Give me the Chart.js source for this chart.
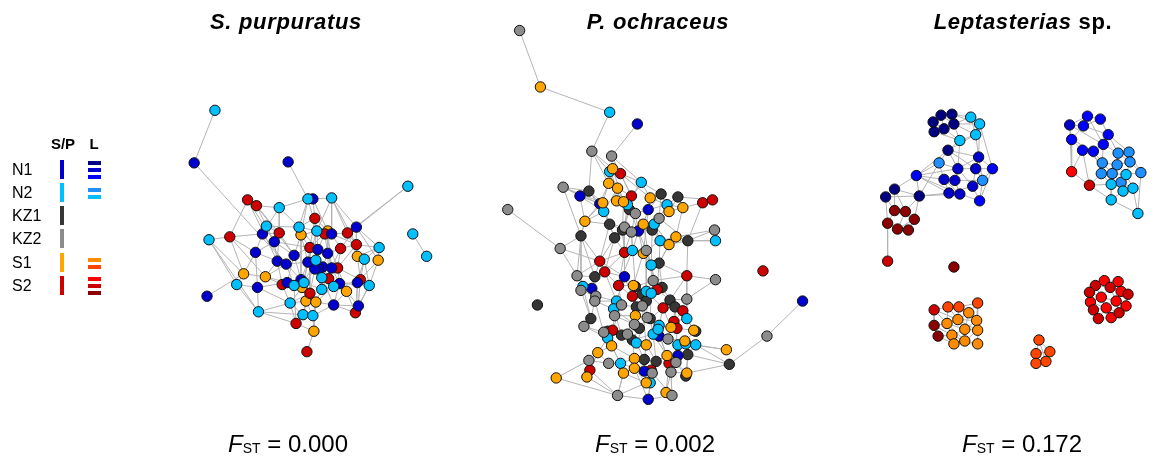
<!DOCTYPE html>
<html>
<head>
<meta charset="utf-8">
<script src="https://cdn.jsdelivr.net/npm/chart.js@4"></script>
<style>
  body { margin: 0; background: #fff; font-family: Arial, "Liberation Sans", sans-serif; }
  #wrap { position: relative; width: 1154px; height: 462px; }
  #net { position: absolute; left: 0; top: 0; }
  .title { position: absolute; top: 10px; transform: translateX(-50%); font-size: 22px; letter-spacing: 0.7px; font-weight: bold; white-space: nowrap; line-height: 24px; }
  .fst { position: absolute; top: 431px; transform: translateX(-50%); font-size: 24px; line-height: 26px; white-space: nowrap; }
  .fst sub { font-size: 14px; vertical-align: -1px; line-height: 0; }
  .lab { position: absolute; font-size: 16px; transform: translateY(-50%); }
  .head { position: absolute; font-size: 15px; font-weight: bold; transform: translate(-50%, -50%); }
  .sw { position: absolute; }
</style>
</head>
<body>
<div id="wrap">
  <canvas id="net" width="1154" height="462"></canvas>
  <div class="title" style="left:286px"><i>S. purpuratus</i></div>
  <div class="title" style="left:658px"><i>P. ochraceus</i></div>
  <div class="title" style="left:1023px"><i>Leptasterias</i> sp.</div>
  <div class="fst" style="left:288px"><i>F</i><sub>ST</sub> = 0.000</div>
  <div class="fst" style="left:655px"><i>F</i><sub>ST</sub> = 0.002</div>
  <div class="fst" style="left:1022px"><i>F</i><sub>ST</sub> = 0.172</div>
  <div id="legend"></div>
</div>
<script>
// group colours
const groupColors = {
  N1: '#0000CD', N2: '#00BFFF', KZ1: '#363636', KZ2: '#8C8C8C', S1: '#FFA500', S2: '#CD0000',
  Ln: '#000080', Lm: '#0000CD', Lb: '#0000FF', Ld: '#1E90FF', Ls: '#00BFFF',
  Ldo: '#FF8C00', Lo: '#FF4500', Lr: '#FF0000', Lr3: '#CD0000', Ldr: '#8B0000'
};

// legend rows: label, S/P group, L groups
const legendLabels = ['N1', 'N2', 'KZ1', 'KZ2', 'S1', 'S2'];
const legendSP = ['N1', 'N2', 'KZ1', 'KZ2', 'S1', 'S2'];
const legendL = [['Ln', 'Lm', 'Lb'], ['Ld', 'Ls'], [], [], ['Ldo', 'Lo'], ['Lr', 'Lr3', 'Ldr']];

// S. purpuratus network layout [x, y, group]
const spNodes = [
  [211,107,'N2'],[190,161,'N1'],[285,160,'N1'],[406,185,'N2'],[244,199,'S2'],[253,205,'S2'],[276,207,'N2'],[305,198,'N2'],
  [310,198,'N1'],[329,197,'N2'],[312,218,'S2'],[263,226,'N2'],[296,227,'N2'],[325,231,'S1'],[322,234,'S2'],[329,234,'N1'],
  [345,233,'S2'],[354,227,'N1'],[314,231,'N2'],[298,235,'S1'],[276,233,'S2'],[259,234,'N1'],[226,237,'S2'],[205,240,'N2'],
  [271,242,'N1'],[411,234,'N2'],[425,257,'N2'],[354,245,'S2'],[377,248,'N2'],[307,248,'S2'],[315,250,'N1'],[325,254,'N1'],
  [338,249,'S2'],[252,253,'N1'],[291,256,'N1'],[355,257,'S1'],[362,260,'N2'],[376,261,'S1'],[274,262,'N1'],[283,265,'N1'],
  [305,263,'N1'],[313,261,'N2'],[320,268,'N1'],[316,270,'N1'],[312,270,'N1'],[329,269,'N1'],[335,269,'S2'],[240,275,'S1'],
  [262,278,'S1'],[319,279,'N2'],[326,280,'S2'],[284,284,'N1'],[298,281,'N1'],[279,286,'S2'],[291,287,'N2'],[299,289,'S1'],
  [301,284,'N2'],[337,285,'N1'],[355,284,'N1'],[358,281,'S2'],[367,287,'N2'],[331,288,'N2'],[319,291,'N2'],[344,293,'S1'],
  [307,295,'S2'],[233,286,'N2'],[254,289,'N1'],[203,298,'N1'],[287,305,'N2'],[303,303,'S1'],[313,304,'S1'],[331,307,'N1'],
  [356,308,'N1'],[353,315,'S2'],[255,314,'N2'],[300,317,'N2'],[310,318,'N2'],[293,326,'S2'],[311,334,'S1'],[304,355,'S2']
];
const spEdges = [
  [0,1],[1,39],[2,7],[3,17],[3,16],[25,26],[67,47],[79,78],
  [4,5],[4,24],[5,6],[5,20],[6,7],[6,12],[7,8],[8,9],[8,10],[9,17],[9,15],[8,13],[7,19],[4,22],[4,38],[5,34],[6,21],
  [11,21],[11,12],[11,24],[12,18],[12,19],[10,18],[10,13],[13,14],[15,16],[16,17],[17,28],[17,37],[9,27],
  [23,22],[23,65],[23,74],[22,21],[22,33],[22,47],[21,33],[21,20],[24,38],[24,33],[33,66],[33,38],[47,48],[47,65],
  [65,66],[66,74],[74,77],[74,68],[48,51],[48,53],[48,39],
  [28,37],[28,36],[27,35],[27,32],[35,36],[36,60],[37,60],[37,58],[59,60],[58,72],[59,72],[72,73],[60,73],
  [29,30],[30,31],[31,32],[29,34],[34,39],[38,39],[39,40],[40,41],[41,42],[42,43],[43,44],[44,40],[42,45],[45,46],
  [46,57],[57,58],[57,61],[61,62],[62,49],[49,50],[50,45],[52,56],[51,52],[53,54],[54,55],[55,56],[56,64],[64,69],
  [69,70],[70,71],[71,72],[61,63],[63,73],[68,69],[68,75],[75,76],[76,78],[77,78],[77,75],[53,68],[51,66],[19,29],
  [19,34],[18,30],[14,31],[15,32],[20,24],[20,34],[12,40],[10,41],[13,45],[15,27],[16,35],[14,46],[31,50],[30,49],
  [29,64],[40,52],[41,56],[43,62],[44,55],[42,61],[45,57],[46,59],[50,63],[62,70],[49,71],[64,75],[55,68],[54,77],
  [58,73],[60,72],[63,72],[36,59],[32,46],[31,42],[30,43],[24,29],[21,39],[18,40],[12,30],[9,16],[19,52],[13,31],
  [34,51],[38,53],[39,54],[57,71],[61,70],[76,71],[78,70],[5,11],[7,18],[10,29],[17,27],[28,35],
  [11,20],[20,38],[24,34],[29,40],[30,41],[31,45],[32,45],[27,46],[35,59],[36,58],[57,60],[58,59],[49,62],[50,61],
  [51,53],[52,54],[53,55],[54,56],[56,62],[64,68],[64,70],[69,75],[70,76],[71,73],[63,71],[66,68],[65,74],[33,47],
  [38,48],[39,52],[40,56],[44,64],[43,49],[42,50],[45,50],[46,63],[6,20],[7,12],[9,18],[13,29],[14,30],[18,19],
  [10,12],[28,27],[22,48],[23,47],[74,75],[68,77],[55,64],[69,76],[17,32],[16,27],[41,49],[44,62],[40,55],[34,52]
];

// P. ochraceus network layout [x, y, group]
const poNodes = [
  [519,25,'KZ2'],[540,83,'S1'],[610,109,'N2'],[638,121,'N1'],[592,149,'KZ2'],[612,154,'KZ2'],[613,167,'S1'],[610,170,'N2'],
  [621,172,'S2'],[642,181,'N2'],[609,182,'S1'],[618,187,'S1'],[563,186,'KZ2'],[589,190,'KZ1'],[580,195,'N1'],[632,195,'S2'],
  [651,197,'S1'],[662,193,'KZ1'],[679,196,'KZ1'],[704,202,'S2'],[714,199,'S2'],[603,202,'S1'],[600,203,'N1'],[617,200,'S1'],
  [624,201,'S1'],[628,204,'N2'],[668,204,'N2'],[684,207,'S1'],[670,211,'S1'],[604,211,'N2'],[630,209,'KZ1'],[636,213,'KZ2'],
  [649,209,'N1'],[507,209,'KZ2'],[660,218,'KZ2'],[585,221,'S1'],[610,224,'KZ1'],[644,224,'S1'],[655,224,'N2'],[625,227,'KZ2'],
  [623,230,'KZ1'],[639,231,'N1'],[632,232,'KZ2'],[653,230,'KZ1'],[716,230,'KZ2'],[717,241,'N2'],[689,241,'KZ1'],[677,237,'S1'],
  [661,241,'N2'],[670,245,'S1'],[581,236,'KZ1'],[615,238,'KZ1'],[560,249,'KZ2'],[625,253,'S2'],[633,251,'N2'],[644,254,'S1'],
  [647,251,'KZ2'],[600,262,'S2'],[652,266,'N2'],[660,264,'KZ1'],[765,272,'S2'],[688,277,'S2'],[717,281,'KZ2'],[577,277,'KZ2'],
  [595,278,'KZ1'],[605,273,'S2'],[625,278,'N1'],[583,288,'N2'],[592,290,'N1'],[581,292,'KZ2'],[619,287,'S2'],[634,287,'S1'],
  [636,288,'KZ1'],[654,282,'KZ2'],[658,291,'S2'],[663,289,'KZ1'],[647,293,'N2'],[652,295,'N2'],[643,296,'KZ1'],[633,298,'S2'],
  [647,303,'KZ1'],[596,298,'KZ2'],[595,303,'KZ2'],[537,307,'KZ1'],[617,303,'N2'],[622,307,'KZ2'],[614,311,'N2'],[671,302,'KZ1'],
  [688,301,'KZ2'],[805,303,'N1'],[664,310,'S2'],[676,309,'KZ1'],[684,313,'S2'],[643,308,'KZ2'],[637,309,'KZ1'],[615,318,'KZ2'],
  [636,318,'S1'],[648,320,'KZ2'],[651,321,'KZ1'],[688,321,'N2'],[591,321,'KZ1'],[584,329,'KZ2'],[635,327,'KZ2'],[675,324,'S2'],
  [672,330,'S1'],[678,331,'S2'],[660,328,'N2'],[640,331,'KZ1'],[695,333,'S1'],[697,334,'KZ1'],[613,333,'S2'],[604,335,'KZ2'],
  [608,334,'KZ1'],[608,341,'N2'],[654,337,'N2'],[660,339,'N1'],[659,332,'N2'],[622,338,'KZ1'],[628,337,'KZ2'],[633,343,'KZ1'],
  [637,346,'N2'],[612,349,'S1'],[647,348,'S1'],[669,342,'KZ2'],[686,344,'S1'],[679,348,'N2'],[687,347,'N2'],[697,348,'N2'],
  [728,353,'S1'],[769,339,'KZ2'],[598,356,'S1'],[689,358,'KZ1'],[679,359,'N1'],[635,362,'S1'],[645,363,'KZ1'],[657,365,'KZ1'],
  [668,359,'S1'],[589,364,'KZ2'],[609,367,'KZ2'],[621,367,'N2'],[670,367,'S2'],[677,366,'KZ2'],[731,368,'KZ1'],[590,374,'S2'],
  [635,372,'S1'],[624,377,'S1'],[652,374,'S2'],[645,375,'N1'],[653,377,'KZ2'],[672,376,'KZ2'],[688,377,'S1'],[687,380,'KZ1'],
  [556,382,'S1'],[587,381,'S1'],[647,387,'S1'],[651,387,'N2'],[667,397,'S1'],[673,400,'KZ2'],[618,400,'KZ2'],[649,404,'N1']
];
const poEdges = [
  [0,1],[1,2],[2,4],[3,5],[33,52],[52,57],[12,13],[12,14],[12,50],[4,13],[4,10],[4,7],[4,6],[5,6],[5,8],[5,9],[5,15],
  [89,129],[129,142],[142,127],[142,150],[142,131],[128,127],[128,126],[62,61],[62,88],[44,47],[44,46],[45,46],[45,48],
  [19,20],[19,27],[20,18],[18,26],[17,16],[17,28],[152,158],[153,158],[158,159],[158,154],[158,143],[158,145],[159,157],
  [157,156],[156,149],[159,155],[46,61],[61,59],[61,73],[61,87],[61,88],[50,35],[50,52],[50,63],[50,69],
  [6,7],[7,8],[8,9],[9,16],[9,15],[10,11],[11,15],[11,23],[10,21],[13,14],[13,22],[14,22],[14,29],[21,22],[22,29],
  [23,24],[24,25],[25,30],[30,31],[31,32],[32,16],[16,26],[26,27],[26,28],[28,34],[34,38],[38,37],[37,41],[41,43],
  [43,34],[39,40],[40,42],[42,41],[36,39],[36,51],[51,40],[35,36],[35,29],[29,36],[21,35],[30,39],[31,42],[15,30],
  [15,24],[9,17],[17,32],[18,28],[27,47],[47,48],[48,49],[49,43],[46,47],[46,49],[48,38],[53,54],[54,55],[55,56],
  [56,48],[53,40],[51,53],[57,65],[57,63],[57,50],[52,63],[58,59],[58,56],[54,42],[55,41],[59,49],[26,32],[23,30],
  [25,31],[10,25],[7,23],[6,24],[8,16],[11,29],[13,21],[12,22],[37,31],[38,43],[34,46],[17,26],[19,46],[18,27],
  [63,64],[64,65],[65,66],[66,70],[70,71],[71,72],[72,73],[73,74],[74,75],[75,76],[76,77],[77,78],[78,79],[79,72],
  [80,77],[80,93],[93,94],[94,79],[67,68],[68,69],[67,63],[69,81],[81,82],[82,84],[84,85],[85,86],[86,95],[95,96],
  [96,97],[97,98],[98,90],[90,91],[91,92],[92,99],[99,103],[103,104],[104,105],[105,108],[108,109],[109,124],
  [124,125],[125,126],[126,127],[100,101],[101,111],[111,112],[112,110],[110,113],[113,121],[121,130],[130,137],
  [137,143],[137,138],[138,139],[139,145],[145,144],[144,133],[133,134],[134,135],[135,136],[136,140],[140,141],
  [141,131],[131,132],[132,149],[149,150],[150,151],[146,147],[147,148],[148,146],[154,155],[155,159],[146,154],
  [102,107],[107,117],[117,118],[118,119],[119,120],[120,122],[122,114],[114,115],[115,116],[116,106],[106,104],
  [123,115],[123,124],[87,91],[87,88],[88,99],[74,87],[76,90],[78,93],[80,97],[84,66],[86,117],[95,102],[96,107],
  [97,106],[98,114],[100,82],[100,69],[101,113],[111,121],[112,117],[110,118],[113,130],[121,139],[119,133],
  [120,134],[122,135],[114,136],[116,140],[105,141],[103,123],[92,108],[64,81],[65,84],[70,85],[71,94],[66,79],
  [53,65],[54,70],[56,73],[58,74],[59,75],[57,64],[51,57],[40,53],[41,56],[43,58],[49,59],[147,134],[148,135],
  [153,143],[143,130],[152,137],[139,144],[145,158],[144,159],[147,155],[154,148],[156,140],[157,149],[151,131],
  [150,141],[36,57],[39,66],[42,72],[37,73],[32,55],[25,41],[24,40],[21,36],[67,100],[82,111],[85,110],[94,118],
  [93,122],[98,116],[91,103],[90,106],[97,120],[77,98],[75,91],
  [63,67],[64,68],[65,70],[66,71],[70,79],[72,78],[73,76],[74,77],[75,80],[81,84],[82,86],[84,95],[85,94],[86,102],
  [93,97],[94,96],[95,110],[96,102],[97,107],[98,106],[90,104],[91,105],[92,103],[99,108],[87,90],[102,117],
  [107,119],[117,120],[118,122],[119,114],[110,117],[111,113],[112,118],[113,139],[121,133],[122,134],[114,135],
  [115,136],[116,123],[123,125],[124,127],[125,132],[126,131],[127,131],[130,138],[133,144],[134,147],[135,146],
  [136,149],[140,149],[141,151],[139,133],[144,154],[145,154],[146,155],[148,157],[149,157],[150,131],[143,153],
  [137,153],[6,10],[7,11],[8,15],[9,25],[10,22],[11,24],[13,29],[14,35],[21,29],[22,35],[23,25],[24,30],[25,39],
  [30,40],[31,41],[32,37],[16,32],[17,34],[26,34],[27,28],[28,43],[29,51],[36,40],[37,43],[38,49],[39,51],[41,54],
  [42,53],[43,48],[47,49],[48,59],[53,57],[54,56],[55,58],[57,66],[58,73],[59,74],[56,76],[55,71],[53,70],[51,65],
  [50,64],[35,50],[12,21]
];

// Leptasterias sp. network layout [x, y, group]
const leNodes = [
  [937,119,'Ln'],[945,112,'Ln'],[956,111,'Ln'],[958,121,'Ln'],[948,126,'Ln'],[938,129,'Ln'],[975,114,'Ls'],[984,121,'Ls'],
  [980,132,'Ls'],[964,138,'Ls'],[952,148,'Ln'],[943,161,'Ld'],[983,155,'Lm'],[962,167,'Lm'],[980,167,'Lm'],[997,167,'Lb'],
  [948,178,'Lm'],[959,179,'Lm'],[987,179,'Ld'],[977,185,'Lm'],[953,192,'Lm'],[964,193,'Lm'],[984,200,'Lb'],[920,174,'Lb'],
  [898,188,'Ln'],[889,196,'Ln'],[923,195,'Ln'],[898,210,'Ldr'],[909,211,'Ldr'],[918,219,'Ldr'],[891,223,'Ldr'],[901,229,'Ldr'],
  [912,230,'Ldr'],[891,262,'Lr3'],[958,268,'Ldr'],
  [1093,113,'Lb'],[1106,116,'Lb'],[1075,122,'Lm'],[1089,123,'Lb'],[1114,132,'Lb'],[1077,137,'Lb'],[1109,142,'Lb'],[1088,148,'Lb'],
  [1099,149,'Lb'],[1124,151,'Ld'],[1135,150,'Ld'],[1108,161,'Ld'],[1123,163,'Ld'],[1136,160,'Ld'],[1107,172,'Ld'],[1118,172,'Ld'],
  [1132,173,'Ls'],[1147,171,'Ld'],[1117,183,'Ls'],[1127,181,'Ld'],[1129,190,'Ls'],[1139,187,'Ls'],[1117,199,'Ls'],[1144,213,'Ls'],
  [1077,170,'Lr'],[1095,184,'Lr3'],
  [938,312,'Lr3'],[952,309,'Lo'],[963,309,'Lo'],[982,305,'Lo'],[973,315,'Ldo'],[938,328,'Ldr'],[962,322,'Ldo'],[981,323,'Ldo'],
  [951,326,'Ldo'],[969,332,'Ldo'],[982,333,'Ldo'],[942,339,'Ldr'],[956,338,'Ldo'],[969,344,'Ldo'],[958,347,'Ldo'],[982,347,'Ldo'],
  [1044,343,'Lo'],[1041,357,'Lo'],[1055,355,'Lo'],[1041,367,'Lo'],[1051,365,'Lo'],
  [1101,287,'Lr3'],[1110,282,'Lr'],[1124,283,'Lr'],[1116,289,'Lr3'],[1127,293,'Lr'],[1134,296,'Lr3'],[1095,294,'Lr3'],[1107,299,'Lr'],
  [1122,303,'Lr'],[1096,304,'Lr'],[1132,308,'Lr'],[1112,310,'Lr'],[1099,312,'Lr3'],[1125,315,'Lr3'],[1104,321,'Lr3'],[1117,320,'Lr']
];
const leEdges = [
  [0,1],[1,2],[2,3],[3,4],[4,5],[5,0],[0,4],[1,3],[1,4],[2,6],[3,6],[3,7],[6,7],[7,8],[8,9],[9,3],[4,9],[2,7],[8,3],
  [5,9],[6,8],[9,10],[8,10],[7,12],[8,12],[10,12],[10,11],[10,13],[10,14],[11,13],[11,16],[12,14],[12,15],[13,14],
  [14,15],[15,18],[15,22],[13,17],[16,17],[17,18],[18,19],[19,20],[20,21],[21,22],[22,19],[16,20],[13,19],[14,18],
  [17,21],[12,13],[11,23],[23,16],[23,20],[23,24],[23,26],[23,10],[11,26],[26,24],[24,25],[25,26],[24,27],[25,27],
  [26,28],[26,29],[27,28],[28,29],[29,32],[30,31],[31,32],[27,30],[28,31],[24,28],[25,30],[30,33],[26,20],[23,13],
  [7,15],[9,13],[21,16],[14,19],[18,22],[12,18],[27,29],[29,31],[30,32],[26,21],[23,21],
  [35,36],[35,38],[36,38],[37,38],[37,40],[38,40],[38,39],[36,39],[39,41],[40,42],[40,43],[41,43],[42,43],[41,44],
  [43,46],[44,45],[44,47],[45,48],[46,47],[47,48],[46,49],[49,50],[50,51],[51,52],[48,52],[50,53],[53,54],[54,55],
  [55,56],[51,56],[53,57],[57,55],[56,58],[52,58],[57,58],[37,59],[40,59],[42,59],[59,60],[60,49],[60,53],[60,57],
  [42,60],[37,41],[35,41],[39,44],[41,46],[43,49],[47,50],[48,51],[54,56],[46,50],[49,53],[42,46],[44,48],[37,35],
  [47,51],[50,54],[45,52],[39,45],
  [61,62],[62,63],[63,64],[64,65],[65,63],[61,66],[62,67],[63,67],[65,68],[64,68],[67,68],[66,69],[69,67],[69,70],
  [70,71],[68,71],[66,72],[72,73],[73,74],[74,70],[73,75],[75,74],[74,76],[71,76],[62,69],[65,67],[67,70],[69,73],
  [70,73],[71,74],[61,69],[72,75],[64,71],[62,65],[63,68],[66,73],[68,70],[65,70],[61,67],[75,76],[69,74],[67,71],
  [77,78],[77,79],[78,79],[78,80],[79,81],[80,81],[78,81],[77,81],
  [82,83],[83,84],[84,85],[85,86],[86,87],[82,88],[88,89],[89,85],[85,90],[90,86],[87,92],[90,92],[88,91],[91,94],
  [94,96],[96,97],[97,93],[93,89],[93,90],[92,95],[95,97],[89,91],[83,85],[82,85],[91,93],[94,93],[95,90],[89,90],
  [82,89],[84,86],[86,90],[93,96],[95,93]
];

const panels = [[spNodes, spEdges], [poNodes, poEdges], [leNodes, leEdges]];

function edgeData(nodes, edges) {
  const out = [];
  edges.forEach(([a, b]) => {
    out.push({x: nodes[a][0], y: nodes[a][1]}, {x: nodes[b][0], y: nodes[b][1]}, {x: null, y: null});
  });
  return out;
}

const datasets = [];
panels.forEach(([nodes, edges]) => {
  // node points, one dataset per group
  const groups = [...new Set(nodes.map(n => n[2]))];
  groups.forEach(g => {
    datasets.push({
      data: nodes.filter(n => n[2] === g).map(n => ({x: n[0], y: n[1]})),
      pointRadius: 5.2,
      pointBackgroundColor: groupColors[g],
      pointBorderColor: '#111',
      pointBorderWidth: 1,
      order: 0
    });
  });
  // edges under the nodes
  datasets.push({
    data: edgeData(nodes, edges),
    showLine: true,
    spanGaps: false,
    pointRadius: 0,
    borderColor: '#b4b4b4',
    borderWidth: 1,
    order: 1
  });
});

new Chart(document.getElementById('net').getContext('2d'), {
  type: 'scatter',
  data: { datasets: datasets },
  options: {
    responsive: false,
    animation: false,
    events: [],
    layout: { padding: 0 },
    scales: {
      x: { type: 'linear', min: 0, max: 1154, display: false },
      y: { type: 'linear', min: 0, max: 462, reverse: true, display: false }
    },
    plugins: { legend: { display: false }, tooltip: { enabled: false } }
  }
});

// legend (left side)
const legendY = [170, 193, 216, 239, 263, 286];
let html = '<div class="head" style="left:63px;top:143px">S/P</div><div class="head" style="left:94px;top:143px">L</div>';
legendLabels.forEach((lab, i) => {
  const y = legendY[i];
  html += `<div class="lab" style="left:12px;top:${y}px">${lab}</div>`;
  html += `<div class="sw" style="left:60px;top:${y - 10}px;width:4px;height:19px;background:${groupColors[legendSP[i]]}"></div>`;
  const ls = legendL[i];
  const y0 = y - (ls.length * 7 - 3) / 2;
  ls.forEach((g, k) => {
    html += `<div class="sw" style="left:88px;top:${y0 + k * 7}px;width:13px;height:4px;background:${groupColors[g]}"></div>`;
  });
});
document.getElementById('legend').innerHTML = html;
</script>
</body>
</html>
